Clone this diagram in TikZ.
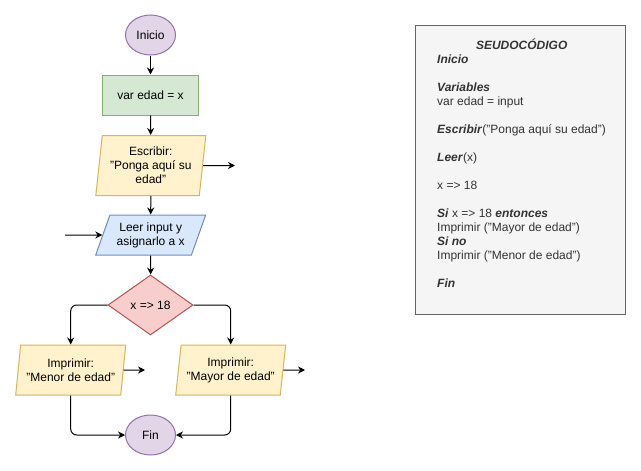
\documentclass[tikz,border=0pt]{standalone}
\usepackage{fontspec}
\setmainfont{Liberation Sans}
\usepackage{tikz}
\usetikzlibrary{shapes.geometric,arrows.meta}

\definecolor{lila}{HTML}{E1D5E7}
\definecolor{lilaline}{HTML}{9673A6}
\definecolor{verde}{HTML}{D5E8D4}
\definecolor{verdeline}{HTML}{82B366}
\definecolor{amarillo}{HTML}{FFF2CC}
\definecolor{amarilloline}{HTML}{D6B656}
\definecolor{azul}{HTML}{DAE8FC}
\definecolor{azulline}{HTML}{6C8EBF}
\definecolor{rojo}{HTML}{F8CECC}
\definecolor{rojoline}{HTML}{B85450}
\definecolor{gris}{HTML}{F5F5F5}
\definecolor{grisline}{HTML}{666666}
\definecolor{texto}{HTML}{333333}

\begin{document}
\begin{tikzpicture}[%
      x=1pt, y=-1pt,
      line width=1pt,
      font=\fontsize{12}{14}\selectfont,
      flecha/.style={-{Stealth[length=7pt,width=7pt]}},
      terminal/.style={ellipse, draw=lilaline, fill=lila, minimum width=50pt, minimum height=40pt, inner sep=0pt},
      proceso/.style={rectangle, draw=verdeline, fill=verde, minimum width=96pt, minimum height=40pt},
      salida/.style={trapezium, trapezium left angle=80.5, trapezium right angle=99.5, trapezium stretches body,
        draw=amarilloline, fill=amarillo, minimum width=110pt, minimum height=60pt, inner sep=1pt, align=center},
      entrada/.style={trapezium, trapezium left angle=62.3, trapezium right angle=117.7, trapezium stretches body,
        draw=azulline, fill=azul, minimum width=110pt, minimum height=40pt, inner sep=1pt, align=center},
      decision/.style={diamond, draw=rojoline, fill=rojo, minimum width=85pt, minimum height=60pt, inner sep=0pt, aspect=1.4},
      ]
      \useasboundingbox (0,0) rectangle (641,471);

      % diagrama de flujo
      \node[terminal] (inicio) at (150.5,35) {Inicio};
      \node[proceso] (var) at (150.5,95) {var edad = x};
      \node[salida] (escribir) at (150.8,165.5) {Escribir:\\"Ponga aquí su\\edad"};
      \node[entrada] (leer) at (150.7,235) {Leer input y\\asignarlo a x};
      \node[decision] (cond) at (150.5,305) {x =\textgreater{} 18};
      \node[salida, minimum height=50pt, trapezium left angle=78.7, trapezium right angle=101.3] (menor) at (70.7,370) {Imprimir:\\"Menor de edad"};
      \node[salida, minimum height=50pt, trapezium left angle=78.7, trapezium right angle=101.3] (mayor) at (230.7,370) {Imprimir:\\"Mayor de edad"};
      \node[terminal] (fin) at (150.5,435) {Fin};

      \coordinate (escribirout) at (235,165.5);
      \coordinate (leerin) at (65,235);
      \coordinate (menorout) at (145,370);
      \coordinate (mayorout) at (305,370);

      \draw[flecha] (inicio) -- (var);
      \draw[flecha] (var) -- (escribir);
      \draw[flecha] (escribir.east) -- (escribirout);
      \draw[flecha] (escribir) -- (leer);
      \draw[flecha] (leerin) -- (leer.west);
      \draw[flecha] (leer) -- (cond);
      \draw[flecha, rounded corners=6pt] (cond.west) -| (menor.north);
      \draw[flecha, rounded corners=6pt] (cond.east) -| (mayor.north);
      \draw[flecha] (menor.east) -- (menorout);
      \draw[flecha] (mayor.east) -- (mayorout);
      \draw[flecha, rounded corners=6pt] (menor.south) |- (fin.west);
      \draw[flecha, rounded corners=6pt] (mayor.south) |- (fin.east);

      % seudocodigo
      \node[draw=grisline, fill=gris, minimum width=210pt, minimum height=289pt] (code) at (520.7,170.4) {};
      \node[text=texto, anchor=base] (titulo) at (521.7,49.3) {\textbf{\textit{SEUDOCÓDIGO}}};
      \node[text=texto, anchor=north west, align=left, inner sep=0pt] (pseudo) at (436.7,54.8) {%
        \textbf{\textit{Inicio}}\\[14pt]
        \textbf{\textit{Variables}}\\
        var edad = input\\[14pt]
        \textbf{\textit{Escribir}}("Ponga aquí su edad")\\[14pt]
        \textbf{\textit{Leer}}(x)\\[14pt]
        x =\textgreater{} 18\\[14pt]
        \textbf{\textit{Si}} x =\textgreater{} 18 \textbf{\textit{entonces}}\\
        Imprimir ("Mayor de edad")\\
        \textbf{\textit{Si no}}\\
        Imprimir ("Menor de edad")\\[14pt]
        \textbf{\textit{Fin}}};
      \end{tikzpicture}
\end{document}
